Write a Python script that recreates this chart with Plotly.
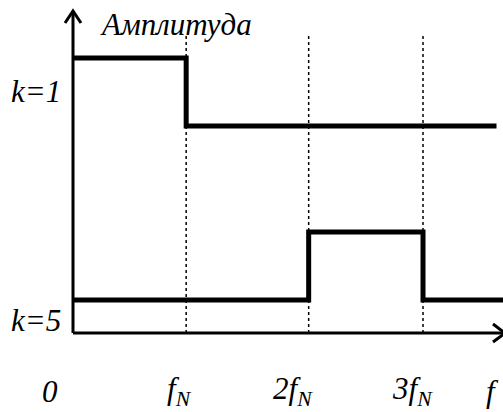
import plotly.graph_objects as go

# ---- data (frequency in units of f_N, amplitude in arbitrary units) ----
f_marks = [0, 0.97, 2.02, 3.0]
f_labels = ["<i>0</i>", "<i>f<sub>N</sub></i>", "<i>2f<sub>N</sub></i>", "<i>3f<sub>N</sub></i>", "<i>f</i>"]

k1_freq = [0, 0.97, 3.63]
k1_amp = [2.75, 2.07, 2.07]

k5_freq = [0, 2.02, 3.0, 3.70]
k5_amp = [0.33, 1.01, 0.33, 0.33]

series_names = ["<i>k=1</i>", "<i>k=5</i>"]
y_title = "<i>Амплитуда</i>"

# ---- layout helpers (pixel -> data) ----
W, H = 503, 412
X0PX, UX = 73, 116.67
Y0PX, UY = 333, 100.0


def px_x(p):
    return (p - X0PX) / UX


def px_y(p):
    return (Y0PX - p) / UY


FONT = "Liberation Serif, Times New Roman, serif"

fig = go.Figure()

for fx, fy in [(k1_freq, k1_amp), (k5_freq, k5_amp)]:
    fig.add_trace(go.Scatter(x=fx, y=fy, mode="lines", line=dict(color="black", width=5, shape="hv"),
                             hoverinfo="skip", showlegend=False))

shapes = []
# dotted verticals
for fm in f_marks[1:]:
    shapes.append(dict(type="line", xref="x", yref="y", x0=fm, x1=fm, y0=0, y1=px_y(33),
                       line=dict(color="black", width=1.5, dash="dot")))
# axes
shapes.append(dict(type="line", xref="x", yref="y", x0=0, x1=0, y0=0, y1=px_y(11),
                   line=dict(color="black", width=3)))
shapes.append(dict(type="line", xref="x", yref="y", x0=0, x1=px_x(504), y0=0, y1=0,
                   line=dict(color="black", width=3)))
# arrow heads
shapes.append(dict(type="path", xref="x", yref="y",
                   path=f"M {px_x(65)} {px_y(23)} L {px_x(73)} {px_y(11)} L {px_x(81)} {px_y(23)}",
                   line=dict(color="black", width=3)))
shapes.append(dict(type="path", xref="x", yref="y",
                   path=f"M {px_x(493)} {px_y(324)} L {px_x(505)} {px_y(333)} L {px_x(493)} {px_y(342)}",
                   line=dict(color="black", width=3)))

ann = []
ann.append(dict(x=px_x(98), y=px_y(24), text=y_title, xanchor="left", yanchor="middle"))
ann.append(dict(x=px_x(36), y=px_y(91), text=series_names[0], xanchor="center", yanchor="middle"))
ann.append(dict(x=px_x(36), y=px_y(320), text=series_names[1], xanchor="center", yanchor="middle"))
label_x = [px_x(50), px_x(179), px_x(293), px_x(412), px_x(492)]
for lx, lt in zip(label_x, f_labels):
    ann.append(dict(x=lx, y=px_y(391), text=lt, xanchor="center", yanchor="middle"))
for a in ann:
    a.update(xref="x", yref="y", showarrow=False, font=dict(family=FONT, size=31, color="black"))

fig.update_layout(
    width=W, height=H, margin=dict(l=0, r=0, t=0, b=0),
    paper_bgcolor="white", plot_bgcolor="white",
    xaxis=dict(range=[px_x(0), px_x(W)], visible=False, fixedrange=True),
    yaxis=dict(range=[px_y(H), px_y(0)], visible=False, fixedrange=True),
    shapes=shapes, annotations=ann, showlegend=False,
)

fig.write_html("out.html", config={"displayModeBar": False},
               post_script="document.body.style.margin='0';document.body.style.overflow='hidden';")
